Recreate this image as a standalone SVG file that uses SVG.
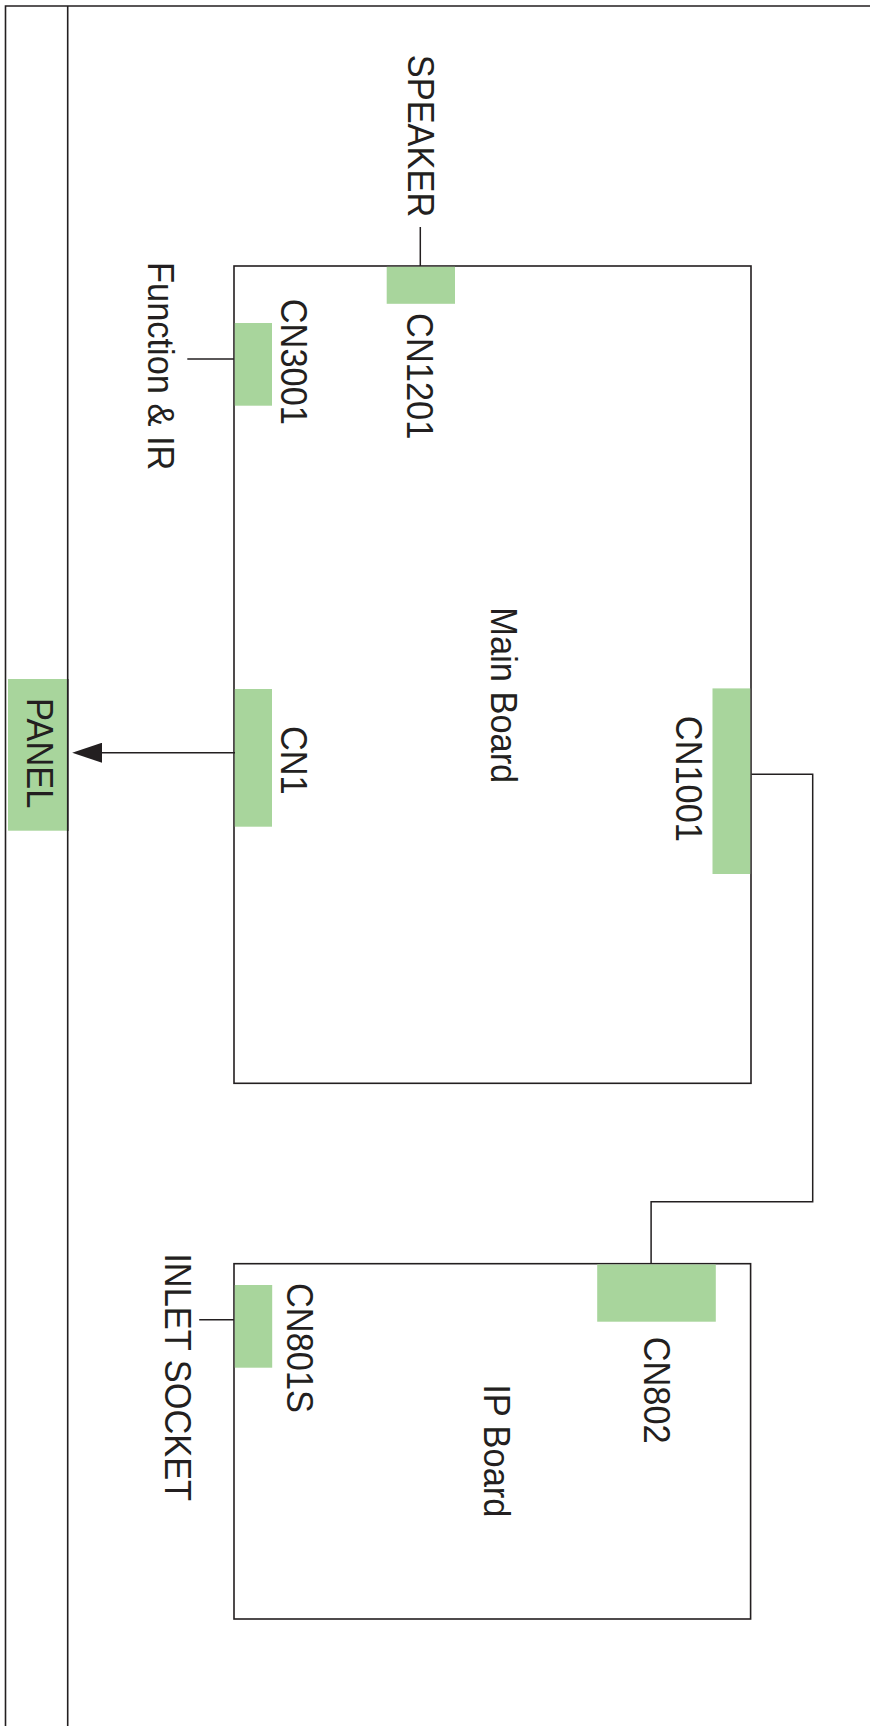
<svg xmlns="http://www.w3.org/2000/svg" width="870" height="1726" viewBox="0 0 870 1726">
<style>
.frame{fill:none;stroke:#231f20;stroke-width:1.6}
.board{fill:#ffffff;stroke:#231f20;stroke-width:1.6}
.conn{fill:#a8d59c;stroke:none}
.wire{fill:none;stroke:#231f20;stroke-width:1.5}
.lbl{font-family:"Liberation Sans",Arial,Helvetica,sans-serif;font-size:34.4px;fill:#231f20;text-anchor:middle}
</style>
<defs>
<marker id="arrow" markerUnits="userSpaceOnUse" markerWidth="30" markerHeight="20" refX="25.3" refY="9.7" orient="auto" viewBox="0 0 29 19.4">
<path d="M0,0 L29,9.7 L0,19.4 z" fill="#231f20"/>
</marker>
</defs>
<rect width="870" height="1726" fill="#ffffff"/>
<g id="frame">
<path class="frame" d="M5.5,1726 V6 H870"/>
<line class="frame" x1="67.7" y1="6" x2="67.7" y2="1726"/>
</g>
<g id="panel">
<rect class="conn" x="8" y="679" width="59.5" height="151.7"/>
<line class="frame" x1="67.7" y1="679" x2="67.7" y2="831"/>
<text class="lbl" transform="translate(26.7,753.2) rotate(90) scale(1,1.08)">PANEL</text>
</g>
<g id="main-board">
<rect class="board" x="234" y="266" width="517" height="817.3"/>
<text class="lbl" transform="translate(491,695.3) rotate(90) scale(1,1.08)">Main Board</text>
</g>
<g id="cn1201">
<rect class="conn" x="386.7" y="266.8" width="68.3" height="37"/>
<text class="lbl" transform="translate(406.5,376.2) rotate(90) scale(1,1.08)">CN1201</text>
</g>
<g id="cn3001">
<rect class="conn" x="234.8" y="323" width="37.2" height="82.7"/>
<text class="lbl" transform="translate(280.5,361.8) rotate(90) scale(1,1.08)">CN3001</text>
</g>
<g id="cn1">
<rect class="conn" x="234.8" y="689" width="37.2" height="137.7"/>
<text class="lbl" transform="translate(281,760.3) rotate(90) scale(1,1.08)">CN1</text>
</g>
<g id="cn1001">
<rect class="conn" x="712.5" y="688.4" width="37.7" height="185.6"/>
<text class="lbl" transform="translate(676,778.9) rotate(90) scale(1,1.08)">CN1001</text>
</g>
<g id="ip-board">
<rect class="board" x="234" y="1263.7" width="516.6" height="355.3"/>
<text class="lbl" transform="translate(483.6,1450.8) rotate(90) scale(1,1.08)">IP Board</text>
</g>
<g id="cn802">
<rect class="conn" x="597.2" y="1264.5" width="118.6" height="57.2"/>
<text class="lbl" transform="translate(644,1390.2) rotate(90) scale(1,1.08)">CN802</text>
</g>
<g id="cn801s">
<rect class="conn" x="234.8" y="1285" width="37.4" height="82.7"/>
<text class="lbl" transform="translate(286.7,1348) rotate(90) scale(1,1.08)">CN801S</text>
</g>
<g id="speaker">
<text class="lbl" transform="translate(407.5,136) rotate(90) scale(1,1.08)">SPEAKER</text>
</g>
<g id="function-ir">
<text class="lbl" transform="translate(148,366.2) rotate(90) scale(1,1.08)">Function &amp; IR</text>
</g>
<g id="inlet-socket">
<text class="lbl" transform="translate(165.2,1377.2) rotate(90) scale(1,1.08)">INLET SOCKET</text>
</g>
<g id="connectors">
<line class="wire" x1="420.3" y1="227" x2="420.3" y2="266"/>
<line class="wire" x1="187.3" y1="359" x2="234" y2="359"/>
<line class="wire" x1="199.2" y1="1319.7" x2="234" y2="1319.7"/>
<line class="wire" x1="235" y1="752.7" x2="76" y2="752.7" marker-end="url(#arrow)"/>
<polyline class="wire" points="751.5,774.2 812.7,774.2 812.7,1201.7 651.1,1201.7 651.1,1263.7"/>
</g>
</svg>
